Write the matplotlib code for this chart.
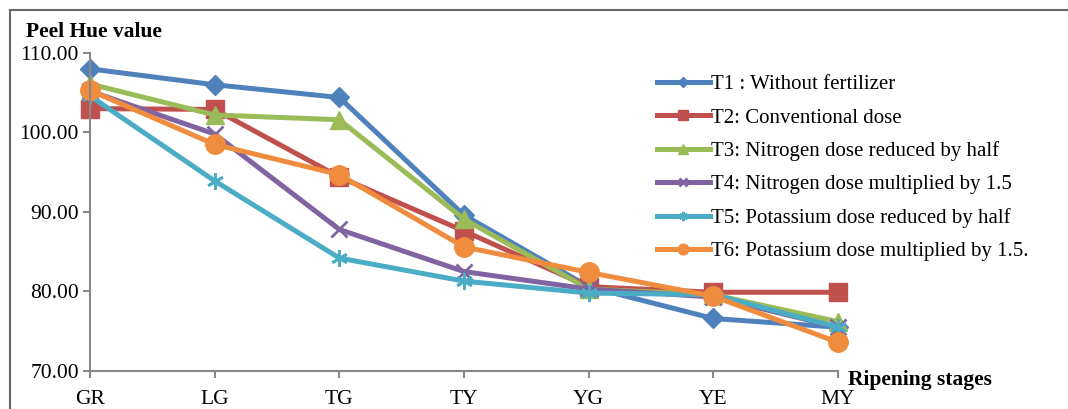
import numpy as np
import matplotlib.pyplot as plt
from matplotlib.lines import Line2D

plt.rcParams["font.family"] = ["Liberation Serif", "DejaVu Serif"]

# Ripening stages and peel hue values per treatment
stages = ["GR", "LG", "TG", "TY", "YG", "YE", "MY"]

t1 = [108.0, 106.0, 104.4, 89.6, 80.6, 76.6, 75.5]
t2 = [103.0, 102.9, 94.4, 87.6, 80.6, 79.9, 79.9]
t3 = [106.1, 102.2, 101.6, 89.1, 80.3, 79.6, 76.2]
t4 = [105.2, 99.8, 87.8, 82.5, 80.3, 79.3, 75.5]
t5 = [104.6, 93.9, 84.2, 81.3, 79.8, 79.6, 75.5]
t6 = [105.3, 98.5, 94.7, 85.6, 82.4, 79.4, 73.6]

labels = [
    "T1 : Without fertilizer",
    "T2: Conventional dose",
    "T3: Nitrogen dose reduced by half",
    "T4: Nitrogen dose multiplied by 1.5",
    "T5: Potassium dose reduced by half",
    "T6: Potassium dose multiplied by 1.5.",
]

series = [t1, t2, t3, t4, t5, t6]
colors = ["#4F81BD", "#C0504D", "#9BBB59", "#8064A2", "#4BACC6", "#F08C3E"]
markers = ["D", "s", "^", "x", (6, 2, 0), "o"]
msizes = [10, 13, 13, 11, 12, 14]

fig = plt.figure(figsize=(10.68, 4.09), dpi=100)
ax = fig.add_axes([0.0843, 0.093, 0.7003, 0.7775])

x = np.arange(len(stages))
handles = []
for vals, c, m, ms, lab in zip(series, colors, markers, msizes, labels):
    mew = 2 if m in ("x", (6, 2, 0)) else 1
    h, = ax.plot(x, vals, color=c, lw=3.6, marker=m, markersize=ms,
                 markeredgecolor=c, markeredgewidth=mew, label=lab)
    h.set_clip_on(False)
    handles.append(h)

ax.set_xlim(0, len(stages) - 1)
ax.set_ylim(70, 110)
ax.set_xticks(x)
ax.set_xticklabels(stages)
ax.set_yticks(np.arange(70, 111, 10))
ax.set_yticklabels([f"{v:.2f}" for v in np.arange(70, 111, 10)])
ax.tick_params(labelsize=15.5, color="#888888", width=1.5, length=5, pad=3)
ax.tick_params(axis="x", pad=9)
for side in ["top", "right"]:
    ax.spines[side].set_visible(False)
for side in ["left", "bottom"]:
    ax.spines[side].set_color("#888888")
    ax.spines[side].set_linewidth(1.5)

fig.text(0.024, 0.91, "Peel Hue value", fontsize=15.5, fontweight="bold")
fig.text(0.794, 0.058, "Ripening stages", fontsize=15.5, fontweight="bold")

fig.legend(handles=handles, loc="upper left", bbox_to_anchor=(0.607, 0.838),
           frameon=False, fontsize=15, handlelength=2.55, handletextpad=0.05,
           labelspacing=0.66, markerscale=0.55, borderaxespad=0)

# chart frame: only the top and left edges fall inside the image
fig.add_artist(Line2D([0.0093, 1.0], [0.975, 0.975], transform=fig.transFigure,
                      color="#666666", lw=1.5))
fig.add_artist(Line2D([0.0093, 0.0093], [0.0, 0.975], transform=fig.transFigure,
                      color="#666666", lw=1.5))

fig.savefig("out.png", dpi=100)
